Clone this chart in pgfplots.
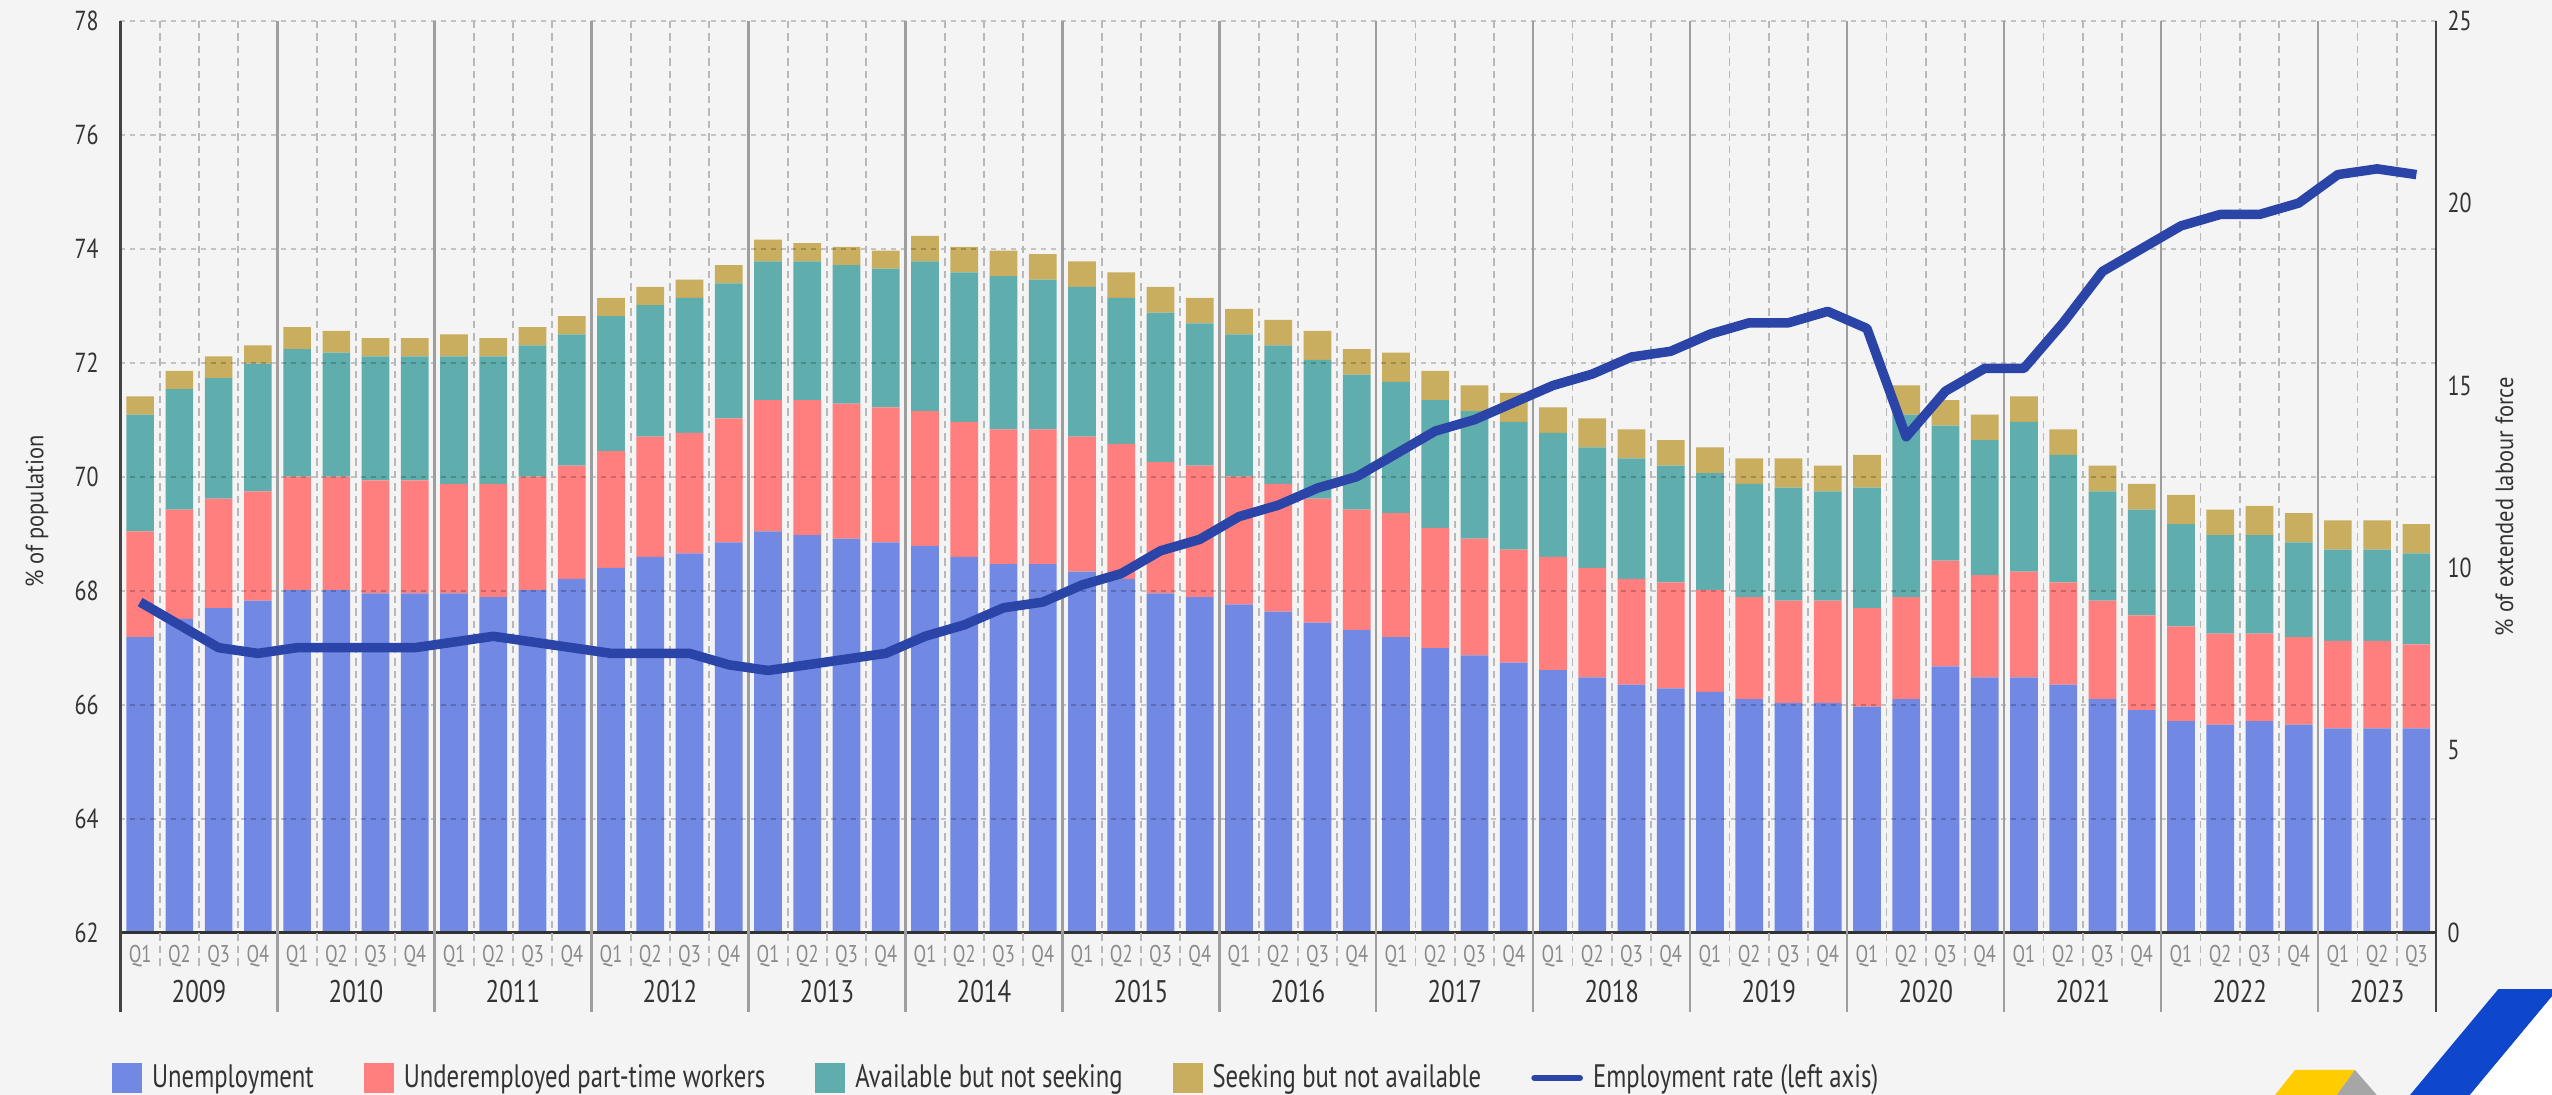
\documentclass[border=0pt]{standalone}
\usepackage{fontspec}
\setmainfont{PT Sans}[FakeStretch=0.76]
\newfontfamily\titlefont{PT Sans}[FakeStretch=0.9]
\newfontfamily\tickfont{PT Sans}[FakeStretch=0.8]
\usepackage{pgfplots}
\usepackage{pgfplotstable}
\pgfplotsset{compat=1.18}

\definecolor{bg}{HTML}{F4F4F4}
\definecolor{cUnemp}{HTML}{7189E2}
\definecolor{cUnder}{HTML}{FF7F7F}
\definecolor{cAvail}{HTML}{5FAEAD}
\definecolor{cSeek}{HTML}{C8AE5E}
\definecolor{cLine}{HTML}{2A44A8}
\definecolor{txt}{HTML}{333333}
\definecolor{qgrey}{HTML}{8A8A8A}
\definecolor{axdark}{HTML}{444444}
\definecolor{yearline}{HTML}{9E9E9E}
\definecolor{qline}{HTML}{B8B8B8}
\definecolor{logoblue}{HTML}{0E47CB}
\definecolor{logoyellow}{HTML}{FFCC00}
\definecolor{logogrey}{HTML}{A6A6A6}

% q: quarter index from 2009Q1; U,P,A,S: stacked segments (% of extended labour force)
% E: employment rate (% of population, left axis)
\pgfplotstableread{
q  U    P   A   S   E
0  8.1  2.9 3.2 0.5 67.8
1  8.6  3.0 3.3 0.5 67.4
2  8.9  3.0 3.3 0.6 67.0
3  9.1  3.0 3.5 0.5 66.9
4  9.4  3.1 3.5 0.6 67.0
5  9.4  3.1 3.4 0.6 67.0
6  9.3  3.1 3.4 0.5 67.0
7  9.3  3.1 3.4 0.5 67.0
8  9.3  3.0 3.5 0.6 67.1
9  9.2  3.1 3.5 0.5 67.2
10 9.4  3.1 3.6 0.5 67.1
11 9.7  3.1 3.6 0.5 67.0
12 10.0 3.2 3.7 0.5 66.9
13 10.3 3.3 3.6 0.5 66.9
14 10.4 3.3 3.7 0.5 66.9
15 10.7 3.4 3.7 0.5 66.7
16 11.0 3.6 3.8 0.6 66.6
17 10.9 3.7 3.8 0.5 66.7
18 10.8 3.7 3.8 0.5 66.8
19 10.7 3.7 3.8 0.5 66.9
20 10.6 3.7 4.1 0.7 67.2
21 10.3 3.7 4.1 0.7 67.4
22 10.1 3.7 4.2 0.7 67.7
23 10.1 3.7 4.1 0.7 67.8
24 9.9  3.7 4.1 0.7 68.1
25 9.7  3.7 4.0 0.7 68.3
26 9.3  3.6 4.1 0.7 68.7
27 9.2  3.6 3.9 0.7 68.9
28 9.0  3.5 3.9 0.7 69.3
29 8.8  3.5 3.8 0.7 69.5
30 8.5  3.4 3.8 0.8 69.8
31 8.3  3.3 3.7 0.7 70.0
32 8.1  3.4 3.6 0.8 70.4
33 7.8  3.3 3.5 0.8 70.8
34 7.6  3.2 3.5 0.7 71.0
35 7.4  3.1 3.5 0.8 71.3
36 7.2  3.1 3.4 0.7 71.6
37 7.0  3.0 3.3 0.8 71.8
38 6.8  2.9 3.3 0.8 72.1
39 6.7  2.9 3.2 0.7 72.2
40 6.6  2.8 3.2 0.7 72.5
41 6.4  2.8 3.1 0.7 72.7
42 6.3  2.8 3.1 0.8 72.7
43 6.3  2.8 3.0 0.7 72.9
44 6.2  2.7 3.3 0.9 72.6
45 6.4  2.8 5.0 0.8 70.7
46 7.3  2.9 3.7 0.7 71.5
47 7.0  2.8 3.7 0.7 71.9
48 7.0  2.9 4.1 0.7 71.9
49 6.8  2.8 3.5 0.7 72.7
50 6.4  2.7 3.0 0.7 73.6
51 6.1  2.6 2.9 0.7 74.0
52 5.8  2.6 2.8 0.8 74.4
53 5.7  2.5 2.7 0.7 74.6
54 5.8  2.4 2.7 0.8 74.6
55 5.7  2.4 2.6 0.8 74.8
56 5.6  2.4 2.5 0.8 75.3
57 5.6  2.4 2.5 0.8 75.4
58 5.6  2.3 2.5 0.8 75.3
}\data

\pgfplotsset{
  base/.style={
    scale only axis, width=926.2pt, height=364.8pt,
    at={(48.2pt,64.92pt)}, anchor=south west,
    xmin=-0.5, xmax=58.5, enlargelimits=false,
    major tick length=0pt, axis line style={-},
    /pgf/number format/assume math mode=true,
    yticklabel style={font=\tickfont\fontsize{11}{13}\selectfont, text=txt},
  },
  sqlegend/.style={legend image code/.code={\fill[##1] (0pt,-6pt) rectangle (12pt,6pt);}},
  linelegend/.style={legend image code/.code={\draw[##1, line width=2.6pt, line cap=round] (1.3pt,0pt) -- (19.4pt,0pt);}},
}

\begin{document}
\begin{tikzpicture}
\fill[bg] (0,0) rectangle (1020.8pt,438pt);
\path[use as bounding box] (0,0) rectangle (1020.8pt,438pt);

% bars, right axis
\begin{axis}[base,
  ybar stacked, bar width=11.08pt,
  ymin=0, ymax=25, ytick={0,5,...,25},
  axis x line=none, axis y line*=right,
  y axis line style={draw=axdark, line width=0.9pt},
  yticklabel style={anchor=west, inner sep=0pt, xshift=4.4pt},
]
\addplot[fill=cUnemp, draw=none] table[x=q, y=U] {\data};
\addplot[fill=cUnder, draw=none] table[x=q, y=P] {\data};
\addplot[fill=cAvail, draw=none] table[x=q, y=A] {\data};
\addplot[fill=cSeek, draw=none] table[x=q, y=S] {\data};
\end{axis}

% employment rate, left axis
\begin{axis}[base, clip=false,
  ymin=62, ymax=78, ytick={62,64,...,78},
  axis x line*=bottom, axis y line*=left,
  x axis line style={draw=txt, line width=1.2pt},
  y axis line style={draw=axdark, line width=0.9pt},
  ymajorgrids, major grid style={black, opacity=0.2, line width=0.7pt, dash pattern=on 2pt off 2pt},
  yticklabel style={anchor=east, inner sep=0pt, xshift=-8.6pt},
  xtick={0,...,58},
  xticklabels={Q1,Q2,Q3,Q4,Q1,Q2,Q3,Q4,Q1,Q2,Q3,Q4,Q1,Q2,Q3,Q4,Q1,Q2,Q3,Q4,
    Q1,Q2,Q3,Q4,Q1,Q2,Q3,Q4,Q1,Q2,Q3,Q4,Q1,Q2,Q3,Q4,Q1,Q2,Q3,Q4,
    Q1,Q2,Q3,Q4,Q1,Q2,Q3,Q4,Q1,Q2,Q3,Q4,Q1,Q2,Q3,Q4,Q1,Q2,Q3},
  xticklabel style={anchor=base, yshift=-12.1pt, font=\fontsize{9.7}{11}\selectfont, text=qgrey},
  extra x ticks={1.5,5.5,9.5,13.5,17.5,21.5,25.5,29.5,33.5,37.5,41.5,45.5,49.5,53.5,57},
  extra x tick labels={2009,2010,2011,2012,2013,2014,2015,2016,2017,2018,2019,2020,2021,2022,2023},
  extra x tick style={xticklabel style={yshift=-15.9pt, font=\tickfont\fontsize{12.5}{14}\selectfont, text=txt}},
  legend columns=5,
  legend style={at={(-0.00384,-0.1593)}, anchor=west, draw=none, fill=none, inner sep=0pt,
    font=\fontsize{13}{15}\selectfont, text=txt, nodes={inner sep=0pt},
    /tikz/every odd column/.append style={column sep=4pt},
    /tikz/every even column/.append style={column sep=20pt}},
  legend cell align=left,
]
% quarter separators (dashed) and year separators (solid)
\pgfplotsinvokeforeach{0,1,2,4,5,6,8,9,10,12,13,14,16,17,18,20,21,22,24,25,26,28,29,30,
  32,33,34,36,37,38,40,41,42,44,45,46,48,49,50,52,53,54,56,57}{
  \draw[qline, line width=0.7pt, dash pattern=on 3pt off 2pt] (axis cs:#1.5,78) -- (axis cs:#1.5,62) -- ++(0pt,-14.5pt);
}
\pgfplotsinvokeforeach{3,7,11,15,19,23,27,31,35,39,43,47,51,55}{
  \draw[yearline, line width=0.9pt] (axis cs:#1.5,78) -- (axis cs:#1.5,62) -- ++(0pt,-31.8pt);
}
\draw[axdark, line width=0.9pt] (axis cs:-0.5,62) -- ++(0pt,-31.8pt);
\draw[axdark, line width=0.9pt] (axis cs:58.5,62) -- ++(0pt,-31.8pt);

\addlegendimage{sqlegend, fill=cUnemp, draw=none}
\addlegendimage{sqlegend, fill=cUnder, draw=none}
\addlegendimage{sqlegend, fill=cAvail, draw=none}
\addlegendimage{sqlegend, fill=cSeek, draw=none}
\addplot[cLine, line width=3.8pt, line join=round, mark=none, linelegend]
  table[x=q, y=E] {\data};
\legend{Unemployment, Underemployed part-time workers, Available but not seeking,
  Seeking but not available, Employment rate (left axis)}
\end{axis}

% axis titles
\node[rotate=90, anchor=base, inner sep=0pt, text=txt, font=\titlefont\fontsize{10}{12}\selectfont]
  at (17.3pt,233.4pt) {\% of population};
\node[rotate=90, anchor=base, inner sep=0pt, text=txt, font=\titlefont\fontsize{10}{12}\selectfont]
  at (1005.2pt,235.3pt) {\% of extended labour force};

% logo corner
\fill[logoblue] (964pt,0pt) -- (999.3pt,42.3pt) -- (1020.8pt,42.3pt) -- (1020.8pt,39.4pt) -- (988pt,0pt) -- cycle;
\fill[white] (988pt,0pt) -- (1020.8pt,39.4pt) -- (1020.8pt,0pt) -- cycle;
\fill[logoyellow] (910pt,0pt) -- (918pt,10pt) -- (942pt,10pt) -- (934.7pt,0pt) -- cycle;
\fill[logogrey] (942pt,10pt) -- (950.7pt,0pt) -- (934.7pt,0pt) -- cycle;
\end{tikzpicture}
\end{document}
